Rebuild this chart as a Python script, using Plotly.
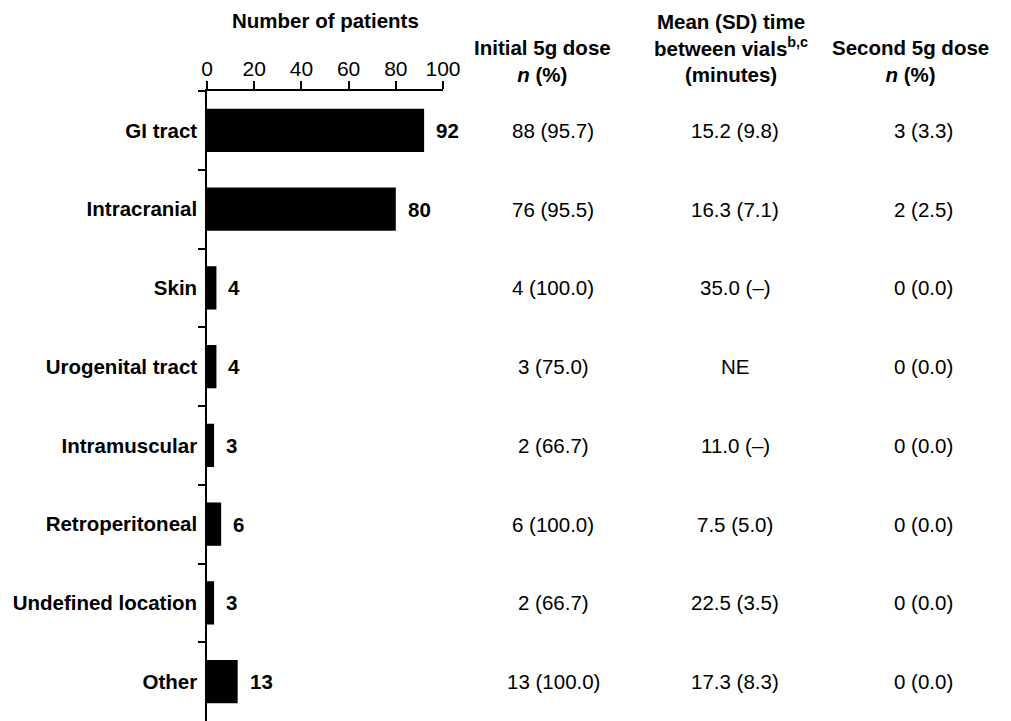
import plotly.graph_objects as go

categories = ["GI tract", "Intracranial", "Skin", "Urogenital tract",
              "Intramuscular", "Retroperitoneal", "Undefined location", "Other"]
patients = [92, 80, 4, 4, 3, 6, 3, 13]
initial_dose = ["88 (95.7)", "76 (95.5)", "4 (100.0)", "3 (75.0)",
                "2 (66.7)", "6 (100.0)", "2 (66.7)", "13 (100.0)"]
mean_time = ["15.2 (9.8)", "16.3 (7.1)", "35.0 (\u2013)", "NE",
             "11.0 (\u2013)", "7.5 (5.0)", "22.5 (3.5)", "17.3 (8.3)"]
second_dose = ["3 (3.3)", "2 (2.5)", "0 (0.0)", "0 (0.0)",
               "0 (0.0)", "0 (0.0)", "0 (0.0)", "0 (0.0)"]
x_ticks = [0, 20, 40, 60, 80, 100]

FONT = "Arial, Liberation Sans, sans-serif"
OFF = 8  # page body margin
W, H = 1011 - OFF, 721 - OFF
# plot area in page pixels
P_L, P_R, P_T, P_B = 207, 443, 91, 721
L, T = P_L - OFF, P_T - OFF
R, B = W - (P_R - OFF), H - (P_B - OFF)
PW = W - L - R
PH = H - T - B


def px_x(p):
    return (p - OFF - L) / PW


def px_y(p):
    return 1 - (p - OFF - T) / PH


fig = go.Figure()
fig.add_trace(go.Bar(
    x=patients, y=categories, orientation="h",
    marker=dict(color="black", line=dict(width=0)),
    width=0.55, hoverinfo="skip",
))

ann = []
for c, v in zip(categories, patients):
    ann.append(dict(x=v, y=c, xref="x", yref="y", text=f"<b>{v}</b>",
                    showarrow=False, xanchor="left", yanchor="middle",
                    xshift=10, font=dict(size=20.5, color="black", family=FONT)))

cols = [(553, initial_dose), (735, mean_time), (923, second_dose)]
for cx, vals in cols:
    for c, t in zip(categories, vals):
        ann.append(dict(x=px_x(cx), y=c, xref="paper", yref="y", text=t,
                        showarrow=False, xanchor="center", yanchor="middle",
                        font=dict(size=20.5, color="black", family=FONT)))

headers = [
    (542, "<b>Initial 5g dose</b><br><b><i>n</i> (%)</b>"),
    (731, "<b>Mean (SD) time</b><br><b>between vials<sup>b,c</sup></b><br><b>(minutes)</b>"),
    (910, "<b>Second 5g dose</b><br><b><i>n</i> (%)</b>"),
]
for cx, t in headers:
    ann.append(dict(x=px_x(cx), y=px_y(88), xref="paper", yref="paper", text=t,
                    showarrow=False, xanchor="center", yanchor="bottom",
                    font=dict(size=20.5, color="black", family=FONT)))

ann.append(dict(x=px_x(325), y=px_y(21), xref="paper", yref="paper",
                text="<b>Number of patients</b>", showarrow=False,
                xanchor="center", yanchor="middle",
                font=dict(size=20.5, color="black", family=FONT)))

fig.update_layout(
    width=W, height=H,
    margin=dict(l=L, r=R, t=T, b=B, pad=0),
    plot_bgcolor="white", paper_bgcolor="white",
    showlegend=False,
    font=dict(family=FONT, size=20.5, color="black"),
    annotations=ann,
    shapes=[dict(type="line", xref="paper", yref="paper",
                 x0=px_x(199), x1=0, y0=1, y1=1,
                 line=dict(color="black", width=1.5))],
    xaxis=dict(side="top", range=[0, 100], tickvals=x_ticks,
               showgrid=False, zeroline=False, showline=True,
               linecolor="black", linewidth=1.5, ticks="outside",
               ticklen=8, tickwidth=1.5, tickcolor="black", automargin=False,
               ticklabelstandoff=-3,
               tickfont=dict(size=21, family=FONT, color="black")),
    yaxis=dict(type="category", categoryorder="array", categoryarray=categories,
               range=[7.5, -0.5], showgrid=False, zeroline=False,
               showline=True, linecolor="black", linewidth=1.5,
               ticks="outside", tickson="boundaries", ticklen=7,
               tickwidth=1.5, tickcolor="black", automargin=False,
               tickfont=dict(size=20.5, family=FONT, color="black", weight="bold"),
               ticklabelstandoff=4),
)
fig.write_html("out.html")
